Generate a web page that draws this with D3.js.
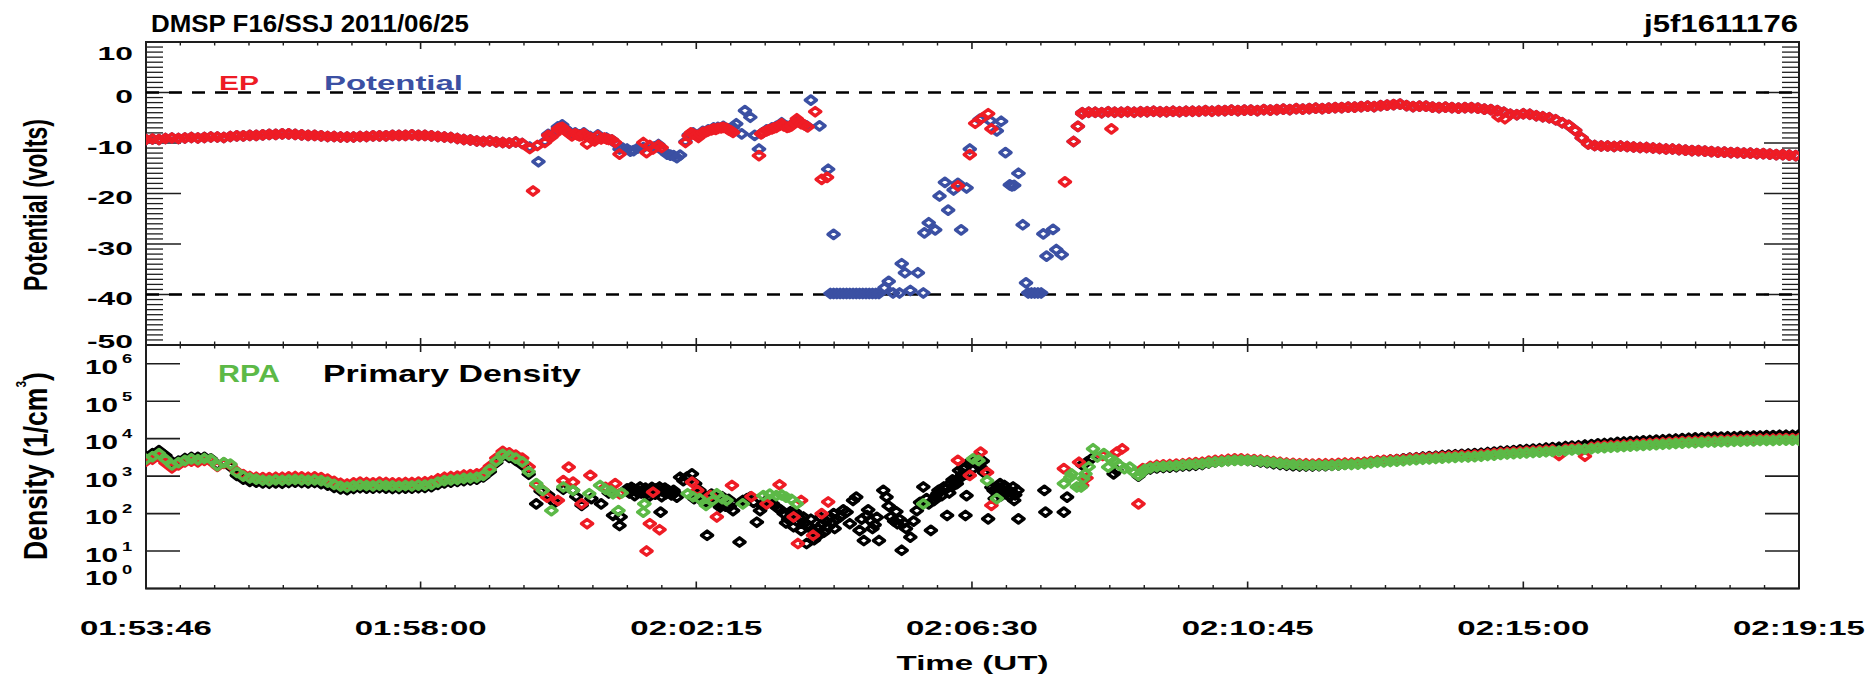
<!DOCTYPE html>
<html>
<head>
<meta charset="utf-8">
<script src="https://cdn.jsdelivr.net/npm/d3@7"></script>
<style>
  html, body { margin: 0; padding: 0; background: #fff; }
  svg { display: block; }
  text { font-family: "Liberation Sans", Arial, Helvetica, sans-serif; font-weight: bold; fill: #000; }
</style>
</head>
<body>
<svg id="chart" width="1873" height="680"></svg>
<script>
// ---------------------------------------------------------------------------
// DMSP F16 / SSJ pass, 2011-06-25. Times are seconds after 01:53:46 UT.
// ---------------------------------------------------------------------------
const timeTickSeconds = [0, 254, 509, 764, 1019, 1274, 1529];
const timeTickLabels  = ["01:53:46", "01:58:00", "02:02:15", "02:06:30", "02:10:45", "02:15:00", "02:19:15"];
const potentialTicks  = [-50, -40, -30, -20, -10, 0, 10];
const potentialRange  = [-50, 10];
const potentialRefLevels = [0, -40];
const densityTickExponents = [0, 1, 2, 3, 4, 5, 6];
const densityTopExponent = 6.5;

// Quiet stretches are sampled every 6 s.
const SAMPLE_STEP = 6;

// Spacecraft potential (V) before the disturbed interval; EP and Potential agree here.
const quietPotentialPreStart = 0;
const quietPotentialPre = [
  -9.3, -9.2, -9.3, -9.1, -9.0, -9.1, -9.0, -8.9, -9.0, -8.9,
  -8.8, -8.8, -8.9, -8.7, -8.6, -8.6, -8.5, -8.5, -8.4, -8.3,
  -8.3, -8.2, -8.2, -8.3, -8.4, -8.5, -8.5, -8.6, -8.7, -8.7,
  -8.8, -8.8, -8.8, -8.7, -8.7, -8.6, -8.6, -8.6, -8.5, -8.5,
  -8.5, -8.4, -8.5, -8.5, -8.6, -8.7, -8.8, -8.9, -9.1, -9.3,
  -9.4, -9.6, -9.7, -9.6, -9.8, -9.9, -10.0, -9.8, -10.1
];

// Spacecraft potential (V) after the disturbed interval.
const quietPotentialPostStart = 866;
const quietPotentialPost = [
  -4.0, -3.9, -3.9, -4.0, -3.8, -3.9,
  -3.9, -3.8, -3.9, -3.8, -3.8, -3.7, -3.8, -3.8, -3.7, -3.8, -3.7, -3.7,
  -3.7, -3.6, -3.7, -3.6, -3.6, -3.5, -3.6, -3.5, -3.5, -3.6,
  -3.4, -3.5, -3.4, -3.3, -3.4, -3.2, -3.3, -3.2, -3.1, -3.2, -3.1, -3.0,
  -3.0, -2.9, -2.9, -2.8, -2.7, -2.8, -2.6, -2.5, -2.4, -2.3,
  -2.6, -2.8, -2.7, -2.7, -2.9, -3.0, -2.9, -3.0, -3.1, -3.0,
  -3.0, -3.1, -3.3, -3.4, -3.6, -3.9, -4.3,
  -4.4, -4.2, -4.3, -4.6, -4.8, -5.0, -5.4,
  -6.0, -6.5, -7.5, -9.0, -10.2,
  -10.5, -10.6, -10.6, -10.7, -10.6, -10.7, -10.8, -10.9, -10.9, -11.0, -11.1,
  -11.2, -11.2, -11.3, -11.4, -11.5, -11.5, -11.6, -11.7, -11.8, -11.8, -11.9,
  -11.9, -12.0, -12.0, -12.1, -12.1, -12.2, -12.3, -12.3, -12.4, -12.5
];

// Irregular samples [seconds, volts]
const epIrregular = [
  [355, -11.1], [358, -19.5], [362, -10.5], [369, -9.9], [372, -8.5], [375, -8.8], [378, -8.2],
  [381, -7.2], [383, -7.0], [385, -6.9], [388, -7.6], [391, -8.0], [394, -8.6], [397, -8.2],
  [399, -8.4], [401, -8.6], [403, -8.5], [405, -8.2], [408, -10.2], [411, -8.9], [413, -9.2],
  [415, -9.6], [418, -8.6], [421, -9.2], [424, -9.0], [426, -9.2], [428, -9.3], [431, -9.4],
  [434, -9.9], [438, -12.2], [460, -9.9], [463, -11.9], [466, -10.5], [469, -11.2], [474, -10.5],
  [477, -10.9], [499, -9.9], [502, -8.6], [504, -8.0], [506, -8.2], [509, -8.5], [511, -8.9],
  [513, -8.3], [515, -7.9], [518, -7.8], [520, -7.6], [523, -7.4], [525, -7.2], [527, -7.3],
  [529, -7.1], [532, -7.0], [534, -6.9], [537, -7.1], [539, -7.4], [541, -7.6], [543, -7.9],
  [567, -12.5], [569, -8.2], [571, -7.9], [574, -7.6], [576, -7.4], [579, -7.2], [581, -7.0],
  [583, -6.9], [586, -6.5], [588, -6.2], [590, -6.6], [593, -6.9], [595, -6.8], [597, -6.6],
  [600, -6.0], [602, -5.2], [604, -5.8], [606, -6.2], [609, -6.4], [612, -6.8], [619, -3.8],
  [625, -17.2], [630, -16.8],
  [751, -18.5], [762, -12.3], [767, -6.1], [773, -5.1], [779, -4.2], [782, -7.2],
  [850, -17.7], [858, -9.7], [862, -6.7], [866, -4.2], [893, -7.2], [1251, -4.8], [1257, -5.2]
];

const potentialIrregular = [
  [355, -10.8], [363, -13.7], [369, -9.7], [372, -8.3], [375, -8.6], [378, -8.0], [381, -6.8],
  [385, -6.4], [388, -7.2], [391, -7.8], [394, -8.4], [397, -8.0], [401, -8.4], [405, -8.0],
  [408, -8.6], [411, -8.7], [415, -9.3], [418, -8.4], [421, -9.0], [426, -9.0], [431, -9.4],
  [434, -10.0], [438, -11.2], [441, -11.0], [445, -11.2], [448, -11.6], [451, -11.5], [455, -11.0],
  [460, -10.9], [466, -10.6], [470, -10.8], [474, -10.3], [478, -11.5], [482, -12.2], [485, -12.4],
  [488, -12.5], [491, -12.9], [494, -12.4], [499, -9.7], [502, -8.4], [506, -8.0], [511, -8.7],
  [515, -7.7], [520, -7.4], [525, -7.0], [529, -6.9], [534, -6.7], [539, -7.2], [543, -6.9],
  [546, -6.2], [551, -8.2], [554, -3.6], [559, -4.9], [563, -8.5], [567, -11.2], [570, -8.0],
  [574, -7.4], [579, -7.0], [583, -6.7], [588, -6.0], [593, -6.7], [597, -6.4], [602, -5.6],
  [606, -6.0], [611, -6.6], [615, -1.5], [623, -6.6], [631, -15.2], [636, -28.1],
  [633, -39.8], [636, -39.8], [639, -39.8], [642, -39.8], [645, -39.8], [648, -39.8], [651, -39.8],
  [654, -39.8], [657, -39.8], [660, -39.8], [663, -39.8], [666, -39.8], [669, -39.8], [672, -39.8],
  [675, -39.8], [678, -39.8],
  [683, -38.7], [687, -37.4], [691, -39.7], [697, -39.7], [699, -33.9], [702, -35.7], [707, -39.2],
  [714, -35.7], [719, -39.7], [720, -27.8], [724, -25.8], [730, -27.2], [734, -20.5], [739, -17.8],
  [742, -23.3], [747, -19.3], [751, -18.0], [754, -27.2], [759, -18.9], [762, -11.2], [771, -5.3],
  [781, -5.6], [787, -7.6], [791, -5.7], [795, -11.9], [799, -18.3], [801, -18.5], [803, -18.4],
  [807, -16.0], [811, -26.2], [814, -37.7], [816, -39.7], [819, -39.7], [822, -39.7], [825, -39.7],
  [828, -39.7], [830, -28.0], [833, -32.4], [839, -27.1], [842, -31.1], [847, -32.1],
  [858, -9.7], [862, -6.7], [866, -4.2]
];

// Densities are given as log10(n / cm^-3).
const rpaQuietPreStart = 0;
const rpaQuietPre = [
  3.45, 3.52, 3.60, 3.45, 3.30, 3.36, 3.42, 3.46, 3.44, 3.47,
  3.45, 3.28, 3.36, 3.32, 3.10, 3.00, 2.95, 2.92, 2.89, 2.88,
  2.90, 2.89, 2.90, 2.91, 2.90, 2.89, 2.90, 2.88, 2.84, 2.78,
  2.73, 2.71, 2.74, 2.76, 2.75, 2.74, 2.76, 2.75, 2.74, 2.73,
  2.75, 2.74, 2.76, 2.76, 2.78, 2.84, 2.88, 2.90, 2.91, 2.94,
  2.95, 2.97, 3.02, 3.18, 3.40, 3.58, 3.55, 3.48, 3.38, 3.12
];
const primaryQuietPre = [
  3.52, 3.60, 3.68, 3.55, 3.38, 3.40, 3.47, 3.50, 3.50, 3.50,
  3.46, 3.30, 3.35, 3.26, 3.02, 2.92, 2.86, 2.84, 2.82, 2.81,
  2.82, 2.81, 2.83, 2.84, 2.83, 2.82, 2.83, 2.80, 2.76, 2.70,
  2.66, 2.64, 2.67, 2.69, 2.68, 2.68, 2.69, 2.68, 2.67, 2.67,
  2.68, 2.68, 2.69, 2.70, 2.72, 2.78, 2.82, 2.84, 2.86, 2.88,
  2.90, 2.92, 2.98, 3.12, 3.36, 3.55, 3.50, 3.42, 3.30, 3.05
];
const epDensityQuietPre = [
  3.40, 3.45, 3.52, 3.35, 3.22, 3.30, 3.38, 3.40, 3.38, 3.42,
  3.40, 3.26, 3.34, 3.30, 3.12, 3.04, 2.99, 2.97, 2.96, 2.96,
  2.97, 2.97, 2.98, 2.99, 2.98, 2.97, 2.98, 2.96, 2.92, 2.86,
  2.81, 2.79, 2.82, 2.84, 2.83, 2.82, 2.84, 2.83, 2.82, 2.82,
  2.83, 2.83, 2.84, 2.85, 2.87, 2.93, 2.97, 2.99, 3.00, 3.03,
  3.04, 3.06, 3.10, 3.26, 3.48, 3.66, 3.62, 3.56, 3.48, 3.25
];

const densityQuietPostStart = 929;
const rpaQuietPost = [
  3.22, 3.25, 3.26, 3.27, 3.28, 3.30, 3.31, 3.32, 3.33, 3.36,
  3.38, 3.39, 3.41, 3.42, 3.42, 3.42, 3.41, 3.40, 3.38, 3.36,
  3.34, 3.32, 3.31, 3.30, 3.29, 3.29, 3.29, 3.29, 3.29, 3.30,
  3.31, 3.31, 3.32, 3.33, 3.35, 3.37, 3.38, 3.39, 3.40, 3.41,
  3.43, 3.44, 3.45, 3.46, 3.47, 3.48, 3.49, 3.50, 3.51, 3.51,
  3.52, 3.53, 3.55, 3.56, 3.58, 3.59, 3.60, 3.61, 3.62, 3.63,
  3.64, 3.65, 3.66, 3.67, 3.68, 3.70, 3.71, 3.72, 3.73, 3.75,
  3.76, 3.77, 3.78, 3.79, 3.80, 3.81, 3.82, 3.83, 3.84, 3.85,
  3.86, 3.87, 3.88, 3.89, 3.89, 3.90, 3.91, 3.91, 3.92, 3.92,
  3.93, 3.93, 3.94, 3.94, 3.95, 3.95, 3.95, 3.96, 3.96, 3.96, 3.96
];
const primaryQuietPost = [
  3.19, 3.22, 3.23, 3.24, 3.25, 3.27, 3.28, 3.29, 3.31, 3.35,
  3.38, 3.40, 3.42, 3.43, 3.43, 3.42, 3.40, 3.38, 3.36, 3.33,
  3.31, 3.29, 3.28, 3.27, 3.27, 3.27, 3.28, 3.28, 3.29, 3.30,
  3.32, 3.33, 3.34, 3.36, 3.38, 3.40, 3.41, 3.43, 3.44, 3.46,
  3.48, 3.49, 3.51, 3.52, 3.53, 3.55, 3.56, 3.57, 3.58, 3.59,
  3.60, 3.61, 3.63, 3.64, 3.66, 3.67, 3.68, 3.70, 3.71, 3.72,
  3.73, 3.75, 3.76, 3.77, 3.79, 3.80, 3.81, 3.83, 3.84, 3.86,
  3.87, 3.88, 3.90, 3.91, 3.92, 3.93, 3.94, 3.95, 3.96, 3.97,
  3.98, 3.99, 4.00, 4.01, 4.02, 4.02, 4.03, 4.04, 4.04, 4.05,
  4.05, 4.06, 4.06, 4.07, 4.07, 4.08, 4.08, 4.09, 4.09, 4.09, 4.10
];
const epDensityQuietPost = [
  3.26, 3.29, 3.30, 3.31, 3.32, 3.33, 3.35, 3.36, 3.37, 3.40,
  3.42, 3.43, 3.45, 3.46, 3.46, 3.45, 3.44, 3.43, 3.41, 3.39,
  3.37, 3.35, 3.34, 3.33, 3.33, 3.32, 3.33, 3.33, 3.33, 3.34,
  3.35, 3.35, 3.36, 3.37, 3.39, 3.41, 3.42, 3.43, 3.44, 3.45,
  3.47, 3.48, 3.49, 3.50, 3.51, 3.52, 3.53, 3.54, 3.55, 3.55,
  3.56, 3.57, 3.59, 3.60, 3.62, 3.63, 3.64, 3.65, 3.66, 3.67,
  3.68, 3.69, 3.70, 3.55, 3.72, 3.74, 3.75, 3.53, 3.77, 3.79,
  3.80, 3.81, 3.82, 3.83, 3.84, 3.85, 3.86, 3.87, 3.88, 3.89,
  3.90, 3.91, 3.92, 3.93, 3.93, 3.94, 3.95, 3.95, 3.96, 3.96,
  3.97, 3.97, 3.98, 3.98, 3.99, 3.99, 3.99, 4.00, 4.00, 4.00, 4.00
];

const rpaIrregular = [
  [361, 2.80], [367, 2.62], [375, 2.08], [386, 2.71], [395, 2.62], [410, 2.53], [420, 2.75],
  [425, 2.65], [430, 2.60], [432, 2.53], [437, 2.08], [440, 2.55], [460, 2.04], [461, 2.26],
  [501, 2.53], [506, 2.45], [512, 2.40], [518, 2.22], [524, 2.35], [528, 2.53], [533, 2.40],
  [537, 2.35], [552, 2.26], [571, 2.48], [577, 2.52], [583, 2.48], [588, 2.50], [592, 2.44],
  [597, 2.38], [602, 2.26], [719, 2.26], [765, 3.46], [770, 3.42], [778, 2.88], [787, 2.40],
  [849, 2.80], [855, 2.97], [856, 3.06], [861, 2.71], [865, 2.71], [867, 2.93], [869, 3.06],
  [872, 3.25], [876, 3.73], [880, 3.51], [886, 3.60], [890, 3.24], [892, 3.46], [896, 3.40],
  [900, 3.30], [905, 3.20], [910, 3.24], [914, 3.10], [918, 3.02], [921, 3.10], [924, 3.18]
];
const epDensityIrregular = [
  [361, 2.75], [367, 2.62], [371, 2.44], [381, 2.35], [386, 2.88], [391, 3.24], [395, 2.84],
  [403, 2.26], [408, 1.73], [411, 3.02], [425, 2.70], [434, 2.80], [438, 2.53], [463, 1.00],
  [466, 1.73], [469, 2.57], [475, 1.57], [505, 2.84], [510, 2.62], [522, 2.48], [528, 1.91],
  [542, 2.75], [560, 2.45], [574, 2.26], [586, 2.77], [599, 1.91], [603, 1.20], [606, 2.35],
  [617, 1.42], [625, 2.00], [631, 2.31], [751, 3.42], [762, 3.02], [772, 3.64], [778, 3.10],
  [782, 2.22], [849, 3.20], [863, 3.37], [866, 2.75], [870, 2.95], [885, 3.55], [898, 3.64],
  [903, 3.73], [918, 2.26], [922, 3.20]
];
const primaryIrregular = [
  [361, 2.26], [365, 2.60], [372, 2.50], [378, 2.30], [386, 2.65], [395, 2.62], [398, 2.45],
  [403, 2.22], [412, 2.40], [421, 2.26], [428, 2.55], [432, 1.95], [438, 1.68], [439, 1.91],
  [445, 2.66], [447, 2.55], [449, 2.70], [451, 2.66], [452, 2.48], [454, 2.58], [455, 2.62],
  [457, 2.71], [458, 2.55], [460, 2.62], [462, 2.68], [463, 2.53], [465, 2.45], [466, 2.58],
  [468, 2.70], [469, 2.62], [471, 2.52], [472, 2.66], [474, 2.60], [475, 2.71], [476, 2.04],
  [477, 2.45], [478, 2.60], [480, 2.68], [481, 2.53], [483, 2.62], [484, 2.58], [486, 2.50],
  [488, 2.62], [489, 2.55], [491, 2.44], [494, 2.97], [497, 2.88], [500, 2.97], [505, 3.06],
  [507, 2.40], [508, 2.80], [510, 2.52], [512, 2.62], [514, 2.35], [515, 2.50], [517, 2.45],
  [518, 2.26], [519, 1.42], [520, 2.30], [521, 2.40], [523, 2.52], [525, 2.44], [527, 2.40],
  [528, 2.30], [530, 2.25], [531, 2.17], [533, 2.45], [534, 2.30], [536, 2.20], [537, 2.35],
  [539, 2.38], [540, 2.20], [542, 2.30], [543, 2.08], [549, 1.24], [552, 2.35],
  [556, 2.40], [559, 2.44], [562, 2.30], [565, 1.77], [568, 2.08], [571, 2.20], [574, 2.35],
  [577, 2.30], [580, 2.26], [584, 2.15], [587, 2.10], [590, 2.00], [592, 1.75], [594, 1.85],
  [596, 2.05], [597, 1.95], [599, 1.65], [600, 2.05], [602, 1.80], [604, 1.90], [606, 1.55],
  [608, 1.91], [609, 1.75], [611, 1.20], [612, 1.70], [614, 1.64], [615, 1.85], [617, 1.55],
  [618, 1.30], [620, 1.37], [621, 1.60], [623, 1.46], [624, 1.90], [626, 1.73], [627, 1.50],
  [629, 1.80], [631, 1.65], [633, 1.91], [634, 1.75], [636, 2.00], [637, 1.60], [639, 1.85],
  [642, 1.91], [645, 2.10], [648, 2.04], [651, 1.73], [654, 2.35], [657, 2.44], [660, 1.55],
  [662, 1.85], [664, 1.28], [667, 1.95], [668, 2.10], [670, 1.82], [672, 1.60], [674, 1.70],
  [676, 1.90], [678, 1.28], [682, 2.62], [685, 2.44], [687, 2.20], [689, 1.91], [692, 1.80],
  [694, 2.05], [695, 1.73], [697, 1.85], [699, 1.02], [701, 1.75], [703, 1.60], [707, 1.37],
  [710, 1.80], [713, 2.08], [716, 2.30], [719, 2.71], [722, 2.40], [724, 2.26], [726, 1.55],
  [729, 2.35], [730, 2.45], [732, 2.53], [733, 2.62], [735, 2.60], [736, 2.48], [738, 2.71],
  [740, 2.66], [741, 1.95], [743, 2.55], [744, 2.80], [746, 2.90], [747, 2.75], [749, 2.88],
  [750, 2.80], [752, 3.15], [753, 2.95], [755, 3.05], [756, 3.20], [758, 1.95], [759, 2.48],
  [760, 3.05], [762, 3.33], [763, 3.40], [765, 3.20], [767, 3.35], [769, 3.50], [770, 3.30],
  [772, 3.24], [774, 3.40], [775, 3.10], [779, 1.86], [782, 2.70], [784, 2.62], [785, 2.40],
  [787, 2.55], [788, 2.70], [790, 2.80], [791, 2.48], [793, 2.60], [794, 2.75], [796, 2.53],
  [797, 2.62], [799, 2.45], [800, 2.58], [802, 2.71], [803, 2.35], [804, 2.50], [806, 2.62],
  [807, 1.86], [831, 2.62], [832, 2.04], [849, 2.04], [852, 2.44], [866, 3.30], [870, 3.37],
  [874, 3.45], [895, 3.06], [898, 3.15], [918, 3.00], [924, 3.15]
];

// ---------------------------------------------------------------------------
// Layout
// ---------------------------------------------------------------------------
const plotLeft = 146, plotRight = 1799;
const upperTop = 42, panelSplit = 345, lowerBottom = 588.5;
const INK = "#1e1e1e";
const COLORS = { ep: "#ee1c25", potential: "#3b50a3", rpa: "#5cb947", primary: "#000000" };

const svg = d3.select("#chart");

const x = d3.scaleLinear().domain(d3.extent(timeTickSeconds)).range([plotLeft, plotRight]);
const yPot = d3.scaleLinear().domain(potentialRange).range([panelSplit, upperTop]);
const yDen = d3.scaleLog().domain([1, Math.pow(10, densityTopExponent)]).range([lowerBottom, panelSplit]);

function sampled(start, values) {
  return values.map((v, i) => ({ t: start + i * SAMPLE_STEP, v }));
}
function irregular(rows) {
  return rows.map(([t, v]) => ({ t, v }));
}
const fromLog = d => ({ t: d.t, v: Math.pow(10, d.v) });

const potentialSeries = [
  ...sampled(quietPotentialPreStart, quietPotentialPre),
  ...irregular(potentialIrregular),
  ...sampled(quietPotentialPostStart, quietPotentialPost)
];
const epSeries = [
  ...sampled(quietPotentialPreStart, quietPotentialPre),
  ...irregular(epIrregular),
  ...sampled(quietPotentialPostStart, quietPotentialPost)
];
const primarySeries = [
  ...sampled(rpaQuietPreStart, primaryQuietPre),
  ...irregular(primaryIrregular),
  ...sampled(densityQuietPostStart, primaryQuietPost)
].map(fromLog);
const epDensitySeries = [
  ...sampled(rpaQuietPreStart, epDensityQuietPre),
  ...irregular(epDensityIrregular),
  ...sampled(densityQuietPostStart, epDensityQuietPost)
].map(fromLog);
const rpaSeries = [
  ...sampled(rpaQuietPreStart, rpaQuietPre),
  ...irregular(rpaIrregular),
  ...sampled(densityQuietPostStart, rpaQuietPost)
].map(fromLog);

// ---------------------------------------------------------------------------
// Axes and frames
// ---------------------------------------------------------------------------
const gAxes = svg.append("g").attr("stroke", INK).attr("fill", "none");

function timeTicks(yEdge, dir) {
  const majorLen = 7, minorLen = 3.5;
  timeTickSeconds.forEach(t => {
    gAxes.append("line").attr("x1", x(t)).attr("x2", x(t))
      .attr("y1", yEdge).attr("y2", yEdge + dir * majorLen).attr("stroke-width", 1.6);
  });
  for (let i = 0; i < timeTickSeconds.length - 1; i++) {
    const a = timeTickSeconds[i], b = timeTickSeconds[i + 1];
    for (let k = 1; k < 8; k++) {
      const t = a + (b - a) * k / 8;
      gAxes.append("line").attr("x1", x(t)).attr("x2", x(t))
        .attr("y1", yEdge).attr("y2", yEdge + dir * minorLen).attr("stroke-width", 1.4);
    }
  }
}
timeTicks(upperTop, 1);
timeTicks(panelSplit, -1);
timeTicks(panelSplit, 1);
timeTicks(lowerBottom, -1);

// potential axis: major every 10 V, minor every 1 V on both sides
d3.range(potentialRange[0], potentialRange[1] + 1).forEach(v => {
  const major = potentialTicks.includes(v);
  const len = major ? 35 : 17;
  const yy = yPot(v);
  gAxes.append("line").attr("x1", plotLeft).attr("x2", plotLeft + len)
    .attr("y1", yy).attr("y2", yy).attr("stroke-width", major ? 1.6 : 1.3);
  gAxes.append("line").attr("x1", plotRight - len).attr("x2", plotRight)
    .attr("y1", yy).attr("y2", yy).attr("stroke-width", major ? 1.6 : 1.3);
});

// density axis: decades
densityTickExponents.forEach(e => {
  const yy = yDen(Math.pow(10, e));
  gAxes.append("line").attr("x1", plotLeft).attr("x2", plotLeft + 34)
    .attr("y1", yy).attr("y2", yy).attr("stroke-width", 1.6);
  gAxes.append("line").attr("x1", plotRight - 34).attr("x2", plotRight)
    .attr("y1", yy).attr("y2", yy).attr("stroke-width", 1.6);
});

// panel frames
[[upperTop, panelSplit], [panelSplit, lowerBottom]].forEach(([t, b]) => {
  gAxes.append("rect").attr("x", plotLeft).attr("y", t)
    .attr("width", plotRight - plotLeft).attr("height", b - t).attr("stroke-width", 2);
});

// reference levels
potentialRefLevels.forEach(v => {
  svg.append("line").attr("x1", plotLeft).attr("x2", plotRight)
    .attr("y1", yPot(v)).attr("y2", yPot(v))
    .attr("stroke", "#000").attr("stroke-width", 2.6).attr("stroke-dasharray", "13,10");
});

// ---------------------------------------------------------------------------
// Markers
// ---------------------------------------------------------------------------
const defs = svg.append("defs");
defs.append("clipPath").attr("id", "clip-upper").append("rect")
  .attr("x", plotLeft).attr("y", upperTop).attr("width", plotRight - plotLeft).attr("height", panelSplit - upperTop);
defs.append("clipPath").attr("id", "clip-lower").append("rect")
  .attr("x", plotLeft).attr("y", panelSplit).attr("width", plotRight - plotLeft).attr("height", lowerBottom - panelSplit);

const DIAMOND = "M0,-4.2L5.6,0L0,4.2L-5.6,0Z";

function drawDiamonds(parent, data, yScale, color) {
  parent.append("g")
    .selectAll("path").data(data).join("path")
    .attr("d", DIAMOND)
    .attr("transform", d => `translate(${x(d.t)},${yScale(d.v)})`)
    .attr("fill", "none")
    .attr("stroke", color)
    .attr("stroke-width", 3.4)
    .attr("stroke-linejoin", "round");
}

const gUpper = svg.append("g").attr("clip-path", "url(#clip-upper)");
drawDiamonds(gUpper, potentialSeries, yPot, COLORS.potential);
drawDiamonds(gUpper, epSeries, yPot, COLORS.ep);

const gLower = svg.append("g").attr("clip-path", "url(#clip-lower)");
drawDiamonds(gLower, primarySeries, yDen, COLORS.primary);
drawDiamonds(gLower, epDensitySeries, yDen, COLORS.ep);
drawDiamonds(gLower, rpaSeries, yDen, COLORS.rpa);

// ---------------------------------------------------------------------------
// Text
// ---------------------------------------------------------------------------
const gText = svg.append("g");

function stretchedText(parent, { x: px, y: py, text, size, anchor = "start", width = null, sx = 1, color = "#000" }) {
  const g = parent.append("g");
  const t = g.append("text").attr("font-size", size).attr("text-anchor", anchor)
    .style("fill", color).text(text);
  const len = t.node().getComputedTextLength();
  const k = width ? width / len : sx;
  g.attr("transform", `translate(${px},${py}) scale(${k},1)`);
  return k;
}

// headers
stretchedText(gText, { x: 151, y: 31.5, text: "DMSP F16/SSJ 2011/06/25", size: 23, width: 318 });
stretchedText(gText, { x: 1798, y: 31.5, text: "j5f1611176", size: 23, anchor: "end", width: 154 });

// legends
stretchedText(gText, { x: 219, y: 89.5, text: "EP", size: 21, width: 40, color: COLORS.ep });
stretchedText(gText, { x: 324, y: 89.5, text: "Potential", size: 21, width: 139, color: COLORS.potential });
stretchedText(gText, { x: 218, y: 381.7, text: "RPA", size: 23, width: 62, color: COLORS.rpa });
stretchedText(gText, { x: 323, y: 381.7, text: "Primary Density", size: 23, width: 258, color: COLORS.primary });

// time labels
timeTickSeconds.forEach((t, i) => {
  stretchedText(gText, { x: x(t), y: 634.5, text: timeTickLabels[i], size: 21, anchor: "middle", width: 132 });
});
stretchedText(gText, { x: (plotLeft + plotRight) / 2, y: 670, text: "Time (UT)", size: 21, anchor: "middle", width: 152 });

// potential tick labels
const potLabelSize = 19;
const potProbe = gText.append("text").attr("font-size", potLabelSize).text("-10");
const potScale = 46 / potProbe.node().getComputedTextLength();
potProbe.remove();
potentialTicks.forEach(v => {
  const center = Math.max(upperTop + 11, Math.min(panelSplit - 4, yPot(v) + 4));
  stretchedText(gText, { x: 133, y: center + 0.36 * potLabelSize, text: String(v), size: potLabelSize, anchor: "end", sx: potScale });
});

// density tick labels: 10 with superscript exponent
const denLabelSize = 21, denSupSize = 13;
const denProbe = gText.append("text").attr("font-size", denLabelSize).text("10");
const denScale = 33 / denProbe.node().getComputedTextLength();
denProbe.remove();
densityTickExponents.forEach(e => {
  const center = Math.max(panelSplit + 20, Math.min(lowerBottom - 11, yDen(Math.pow(10, e)) + 3));
  const base = center + 0.36 * denLabelSize;
  stretchedText(gText, { x: 118, y: base, text: "10", size: denLabelSize, anchor: "end", sx: denScale });
  stretchedText(gText, { x: 122, y: base - 11, text: String(e), size: denSupSize, anchor: "start", sx: denScale });
});

// vertical axis titles
function verticalTitle(parent, cx, cy, length, size, build) {
  const g = parent.append("g");
  const t = g.append("text").attr("font-size", size).attr("text-anchor", "middle");
  build(t);
  const len = t.node().getComputedTextLength();
  g.attr("transform", `translate(${cx},${cy}) rotate(-90) scale(${length / len},1)`);
}
verticalTitle(gText, 47, 205, 172, 34, t => t.text("Potential (volts)"));
verticalTitle(gText, 47, 466, 188, 33, t => {
  t.append("tspan").text("Density (1/cm");
  t.append("tspan").attr("font-size", 15).attr("dy", -21).text("3");
  t.append("tspan").attr("dy", 21).text(")");
});
</script>
</body>
</html>
